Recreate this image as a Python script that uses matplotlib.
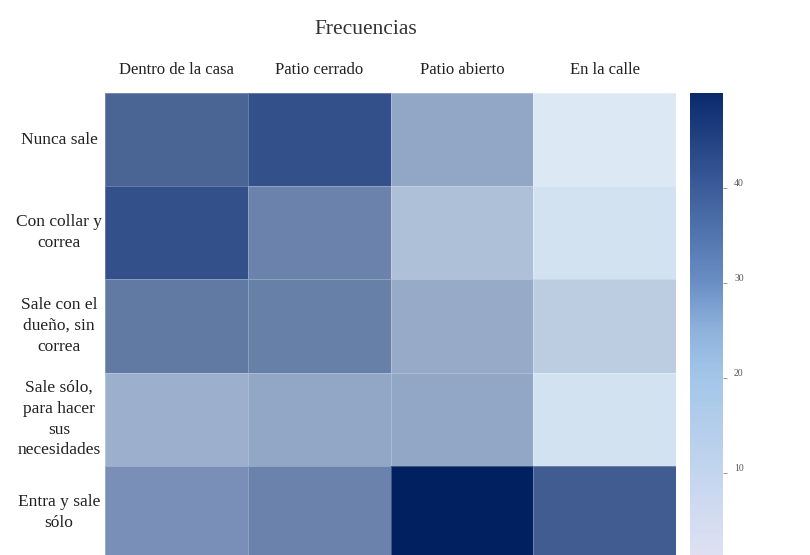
import numpy as np
import matplotlib
matplotlib.use("Agg")
import matplotlib.pyplot as plt
from matplotlib.colors import LinearSegmentedColormap, Normalize
from matplotlib.cm import ScalarMappable

plt.rcParams['font.family'] = ['Liberation Serif', 'DejaVu Serif']

# Data
columnas = ["Dentro de la casa", "Patio cerrado", "Patio abierto", "En la calle"]
filas = [
    "Nunca sale",
    "Con collar y\ncorrea",
    "Sale con el\ndueño, sin\ncorrea",
    "Sale sólo,\npara hacer\nsus\nnecesidades",
    "Entra y sale\nsólo",
]
nunca_sale = [39, 44, 25, 6]
collar_correa = [44, 33, 19, 10]
con_dueno = [35, 34, 24, 15]
solo_necesidades = [23, 25, 25, 10]
entra_sale = [30, 33, 50, 41]
escala_ticks = [10, 20, 30, 40]
vmin, vmax = 1, 50

valores = np.array([nunca_sale, collar_correa, con_dueno,
                    solo_necesidades, entra_sale], dtype=float)

# Colour scales: muted tones for the cells, brighter ones for the bar
def escala(puntos):
    return LinearSegmentedColormap.from_list(
        "escala", [((v - vmin) / (vmax - vmin), c) for v, c in puntos])

cmap_celdas = escala([
    (1, "#e6edf7"), (7, "#dae8f5"), (10, "#d2e2f0"), (15, "#bccde2"),
    (19, "#aebfd8"), (24, "#97abc8"), (30, "#7a8fb8"), (34, "#6680a8"),
    (39, "#4a6494"), (44, "#34508a"), (50, "#00205f"),
])
cmap_barra = escala([
    (1, "#e0e1f2"), (10, "#c3d5ee"), (20, "#a3c6e8"), (25, "#8fb2dc"),
    (30, "#6a8fc4"), (40, "#3c5c9a"), (50, "#0a2a6c"),
])
norm = Normalize(vmin=vmin, vmax=vmax)

W, H = 810, 555
fig = plt.figure(figsize=(W / 100, H / 100), dpi=100)

def caja(x0, y0, x1, y1):
    return [x0 / W, 1 - y1 / H, (x1 - x0) / W, (y1 - y0) / H]

ax = fig.add_axes(caja(105, 93, 676, 559))
ax.pcolormesh(valores, cmap=cmap_celdas, norm=norm,
              edgecolor=(1, 1, 1, 0.25), linewidth=0.6)
ax.set_xlim(0, len(columnas))
ax.set_ylim(len(filas), 0)
for s in ax.spines.values():
    s.set_visible(False)
ax.set_xticks([])
ax.set_yticks([])

# Column headers on top
for j, nombre in enumerate(columnas):
    ax.text(j + 0.5, -0.25, nombre, transform=ax.transData,
            ha="center", va="center", fontsize=12, color="#222222",
            clip_on=False)

# Row labels to the left
for i, nombre in enumerate(filas):
    ax.annotate(nombre, xy=(59 / W, i + 0.5),
                xycoords=("figure fraction", "data"),
                ha="center", va="center", multialignment="center",
                fontsize=12.5, linespacing=1.4, color="#222222")

fig.text(366 / W, 1 - 30 / H, "Frecuencias", ha="center", va="center",
         fontsize=15.5, color="#333333")

# Colour bar
cax = fig.add_axes(caja(690, 93, 723, 559))
cb = fig.colorbar(ScalarMappable(norm=norm, cmap=cmap_barra), cax=cax)
cb.outline.set_visible(False)
cb.set_ticks(escala_ticks)
cax.tick_params(length=3, width=0.6, color="#888888", pad=5,
                labelsize=7, labelcolor="#555555")
for lbl in cax.get_yticklabels():
    lbl.set_va("bottom")

fig.savefig("out.png", dpi=100)
